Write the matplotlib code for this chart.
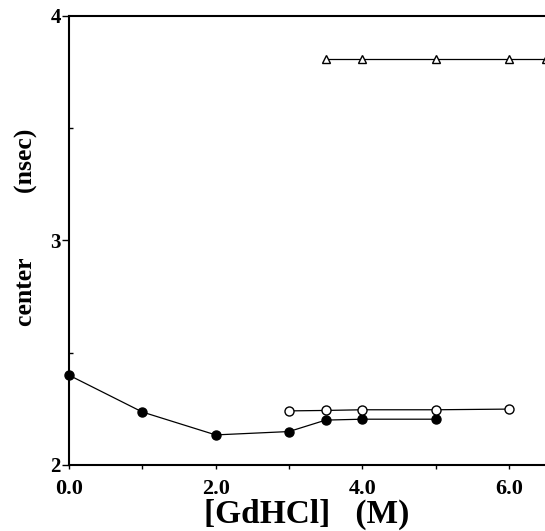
import matplotlib.pyplot as plt
from matplotlib.ticker import MultipleLocator, FixedLocator

# GdHCl concentration (M) and lifetime centers (nsec)
x_filled = [0.0, 1.0, 2.0, 3.0, 3.5, 4.0, 5.0]
y_filled = [2.40, 2.236, 2.134, 2.149, 2.20, 2.204, 2.204]

x_open = [3.0, 3.5, 4.0, 5.0, 6.0]
y_open = [2.241, 2.243, 2.246, 2.246, 2.249]

x_tri = [3.5, 4.0, 5.0, 6.0, 6.5]
y_tri = [3.81, 3.81, 3.81, 3.81, 3.81]

xtick_pos = [0, 2, 4, 6]
xtick_labels = ["0.0", "2.0", "4.0", "6.0"]
ytick_pos = [2, 3, 4]

plt.rcParams['font.family'] = ['Liberation Serif', 'DejaVu Serif']

fig = plt.figure(figsize=(5.45, 5.31), dpi=100)
ax = fig.add_axes([0.1266, 0.1243, 0.8734, 0.8456])

ax.plot(x_filled, y_filled, color='black', lw=0.9, marker='o', ms=6.5,
        mfc='black', mec='black', clip_on=False, zorder=3)
ax.plot(x_open, y_open, color='black', lw=0.9, marker='o', ms=6.5,
        mfc='white', mec='black', mew=1.0, clip_on=False, zorder=3)
ax.plot(x_tri, y_tri, color='black', lw=0.9, marker='^', ms=6,
        mfc='white', mec='black', mew=1.0, clip_on=False, zorder=3)

ax.set_xlim(0, 6.49)
ax.set_ylim(2, 4)

ax.spines['right'].set_visible(False)
for side in ['left', 'bottom', 'top']:
    ax.spines[side].set_linewidth(1.5)

ax.xaxis.set_major_locator(FixedLocator(xtick_pos))
ax.set_xticklabels(xtick_labels, fontsize=16, fontweight='bold')
ax.xaxis.set_minor_locator(MultipleLocator(1))
ax.yaxis.set_major_locator(FixedLocator(ytick_pos))
ax.set_yticklabels([str(v) for v in ytick_pos], fontsize=15, fontweight='bold')
ax.yaxis.set_minor_locator(MultipleLocator(0.5))

ax.tick_params(axis='x', which='both', direction='out', length=3, width=1, pad=7)
ax.tick_params(axis='y', which='major', direction='out', length=5, width=1, pad=1)
ax.tick_params(axis='y', which='minor', direction='in', length=3, width=1)

ax.set_xlabel("[GdHCl]   (M)", fontsize=24, fontweight='bold')
ax.xaxis.set_label_coords(0.5, -0.075)
ax.set_ylabel("center          (nsec)", fontsize=18.5, fontweight='bold')
ax.yaxis.set_label_coords(-0.065, 0.53)

fig.savefig("out.png", dpi=100)
